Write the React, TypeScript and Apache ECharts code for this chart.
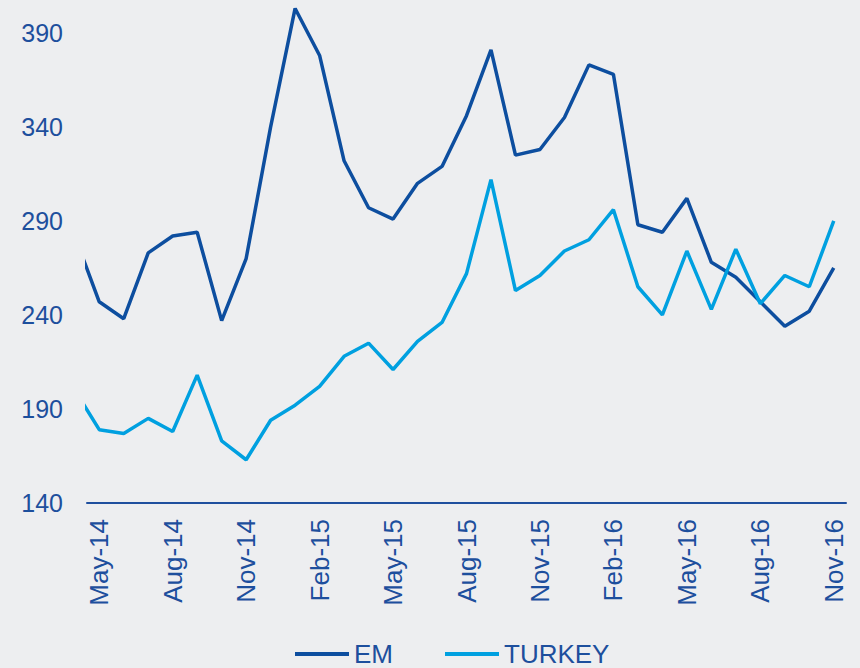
import React, { useEffect, useRef } from "react";
import * as echarts from "echarts";

// Months from Apr-14 (partly outside the plot, clipped) to Nov-16
const months = [
  "Apr-14", "May-14", "Jun-14", "Jul-14", "Aug-14", "Sep-14", "Oct-14", "Nov-14", "Dec-14",
  "Jan-15", "Feb-15", "Mar-15", "Apr-15", "May-15", "Jun-15", "Jul-15", "Aug-15", "Sep-15",
  "Oct-15", "Nov-15", "Dec-15", "Jan-16", "Feb-16", "Mar-16", "Apr-16", "May-16", "Jun-16",
  "Jul-16", "Aug-16", "Sep-16", "Oct-16", "Nov-16",
];

const emValues = [
  282, 247, 238, 273, 282, 284, 237, 270, 340, 403, 378, 322, 297, 291, 310, 319, 346, 381,
  325, 328, 345, 373, 368, 288, 284, 302, 268, 260, 247, 234, 242, 265,
];

const turkeyValues = [
  200, 179, 177, 185, 178, 208, 173, 163, 184, 192, 202, 218, 225, 211, 226, 236, 262, 312,
  253, 261, 274, 280, 296, 255, 240, 274, 243, 275, 246, 261, 255, 290,
];

const yTicks = [140, 190, 240, 290, 340, 390];

const FONT = "'Liberation Sans', Arial, sans-serif";
const TEXT = "#1d4f9d";
const EM_COLOR = "#0d4e9f";
const TR_COLOR = "#00a0e0";

export default function App() {
  const ref = useRef<HTMLDivElement>(null);

  useEffect(() => {
    if (!ref.current) return;
    const chart = echarts.init(ref.current, null, { renderer: "svg" });
    const axisMonths = months.slice(1);
    const toPairs = (vals: number[]) => vals.map((v, i) => [i - 1, v]);
    chart.setOption({
      animation: false,
      backgroundColor: "#edeef0",
      textStyle: { fontFamily: FONT },
      grid: { left: 87, right: 14, top: 0, bottom: 165, containLabel: false },
      legend: {
        left: 293,
        top: 639,
        itemWidth: 54,
        itemHeight: 4,
        itemGap: 52,
        padding: 2,
        data: [
          { name: "EM", icon: "rect", itemStyle: { color: EM_COLOR } },
          { name: "TURKEY", icon: "rect", itemStyle: { color: TR_COLOR } },
        ],
        textStyle: { color: TEXT, fontSize: 26, fontFamily: FONT },
      },
      xAxis: [
        {
          type: "category",
          data: axisMonths,
          boundaryGap: true,
          axisLine: { show: true, lineStyle: { color: "#1f4f9e", width: 2 } },
          axisTick: { show: false },
          axisLabel: {
            interval: 2,
            rotate: 90,
            margin: 16,
            color: TEXT,
            fontSize: 26,
            fontFamily: FONT,
          },
          splitLine: { show: false },
        },
        {
          type: "value",
          min: -0.5,
          max: axisMonths.length - 0.5,
          show: false,
          splitLine: { show: false },
        },
      ],
      yAxis: {
        type: "value",
        min: yTicks[0],
        max: 407.5,
        interval: 50,
        axisLine: { show: false },
        axisTick: { show: false },
        splitLine: { show: false },
        axisLabel: {
          showMaxLabel: false,
          margin: 24,
          color: TEXT,
          fontSize: 25,
          fontFamily: FONT,
          formatter: (v: number) => (yTicks.includes(v) ? String(v) : ""),
        },
      },
      series: [
        {
          name: "EM",
          type: "line",
          xAxisIndex: 1,
          data: toPairs(emValues),
          symbol: "none",
          clip: true,
          lineStyle: { color: EM_COLOR, width: 3.5 },
          itemStyle: { color: EM_COLOR },
        },
        {
          name: "TURKEY",
          type: "line",
          xAxisIndex: 1,
          data: toPairs(turkeyValues),
          symbol: "none",
          clip: true,
          lineStyle: { color: TR_COLOR, width: 3.5 },
          itemStyle: { color: TR_COLOR },
        },
      ],
    });
    return () => chart.dispose();
  }, []);

  return (
    <div
      ref={ref}
      style={{ position: "fixed", left: 0, top: 0, width: 860, height: 668 }}
    />
  );
}
